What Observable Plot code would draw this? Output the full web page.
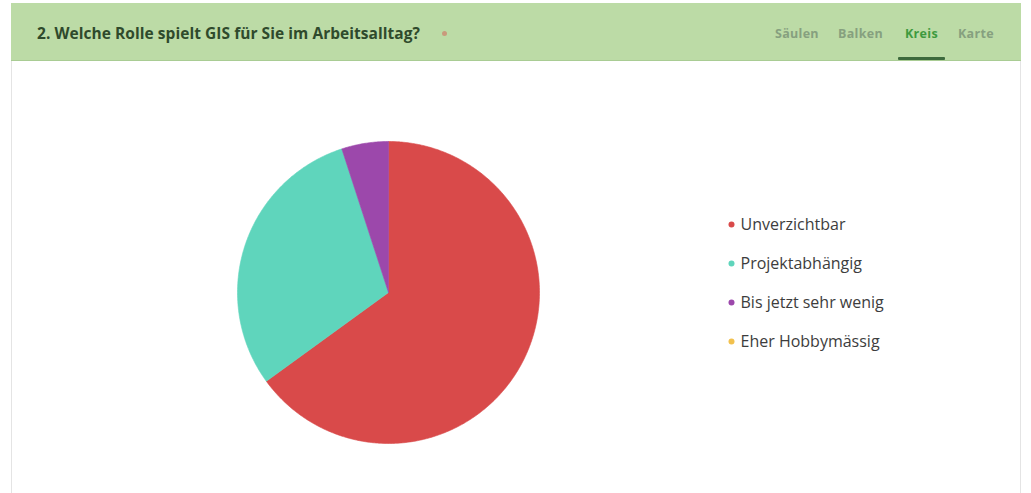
<!DOCTYPE html>
<html>
<head>
<meta charset="utf-8">
<script src="https://cdn.jsdelivr.net/npm/d3@7"></script>
<script src="https://cdn.jsdelivr.net/npm/@observablehq/plot@0.6"></script>
<style>
  html, body { margin: 0; padding: 0; background: #fff; width: 1031px; height: 493px; overflow: hidden; font-family: "Open Sans", Lato, sans-serif; }
  #card { position: absolute; left: 11px; top: 3px; width: 1010px; height: 492px; border: 1px solid #e4e4e4; border-top: none; box-sizing: border-box; }
  #header { position: absolute; left: 11px; top: 3px; width: 1010px; height: 58px; background: #bcdba6; border-bottom: 1px solid #a9cc94; box-sizing: border-box; }
  #title { position: absolute; left: 26px; top: 19px; font-size: 15.5px; font-weight: 700; color: #2f4a2c; white-space: nowrap; letter-spacing: 0.05px; }
  #req { position: absolute; left: 431px; top: 28px; width: 5px; height: 5px; border-radius: 50%; background: #c99a7c; }
  .tab { position: absolute; top: 22px; font-size: 12.5px; font-weight: 700; color: #86a07f; white-space: nowrap; letter-spacing: 0.3px; }
  .tab.active { color: #3e9a3e; }
  #underline { position: absolute; left: 887px; top: 54px; width: 47px; height: 3px; background: #3d6a3d; border-radius: 1px; }
  #pie { position: absolute; left: 228px; top: 132px; }
  #legend { position: absolute; left: 720px; top: 205px; }
</style>
</head>
<body>
<div id="card"></div>
<div id="header">
  <div id="title">2. Welche Rolle spielt GIS für Sie im Arbeitsalltag?</div>
  <div id="req"></div>
  <div class="tab" style="left:764px">Säulen</div>
  <div class="tab" style="left:827px">Balken</div>
  <div class="tab active" style="left:894px">Kreis</div>
  <div class="tab" style="left:947px">Karte</div>
  <div id="underline"></div>
</div>
<div id="pie"></div>
<div id="legend"></div>
<script>
const categories = ["Unverzichtbar", "Projektabhängig", "Bis jetzt sehr wenig", "Eher Hobbymässig"];
const values = [13, 6, 1, 0];
const colors = ["#d94a4a", "#5fd5bc", "#9c48ab", "#f2c14e"];

const data = categories.map((c, i) => ({category: c, value: values[i]}));
const arcs = d3.pie().sort(null).value(d => d.value)(data);

// Build slice polygons in unit coordinates (angle 0 = top, clockwise)
const pts = [];
for (const a of arcs) {
  if (a.endAngle - a.startAngle <= 0) continue;
  const n = Math.max(2, Math.ceil((a.endAngle - a.startAngle) / 0.01));
  pts.push({category: a.data.category, x: 0, y: 0});
  for (let k = 0; k <= n; k++) {
    const t = a.startAngle + (a.endAngle - a.startAngle) * k / n;
    pts.push({category: a.data.category, x: Math.sin(t), y: Math.cos(t)});
  }
  pts.push({category: a.data.category, x: 0, y: 0});
}

const color = {domain: categories, range: colors};

const pie = Plot.plot({
  width: 320, height: 320,
  margin: 0,
  x: {domain: [-1, 1], range: [9, 311], axis: null},
  y: {domain: [-1, 1], range: [311, 9], axis: null},
  color,
  marks: [
    Plot.line(pts, {x: "x", y: "y", z: "category", fill: "category", stroke: "category", strokeWidth: 0.6, curve: "linear"})
  ]
});
document.getElementById("pie").appendChild(pie);

const legend = Plot.plot({
  width: 240, height: 160,
  margin: 0,
  x: {domain: [0, 1], range: [11, 240], axis: null},
  y: {type: "point", domain: categories, range: [19, 136], padding: 0, axis: null},
  color,
  style: {fontFamily: "'Open Sans', Lato, sans-serif"},
  marks: [
    Plot.dot(categories, {x: () => 0, y: d => d, fill: d => d, r: 3}),
    Plot.text(categories, {x: () => 0, y: d => d, text: d => d, dx: 9, textAnchor: "start", fontSize: 16, fill: "#3d3d3d"})
  ]
});
document.getElementById("legend").appendChild(legend);
</script>
</body>
</html>
